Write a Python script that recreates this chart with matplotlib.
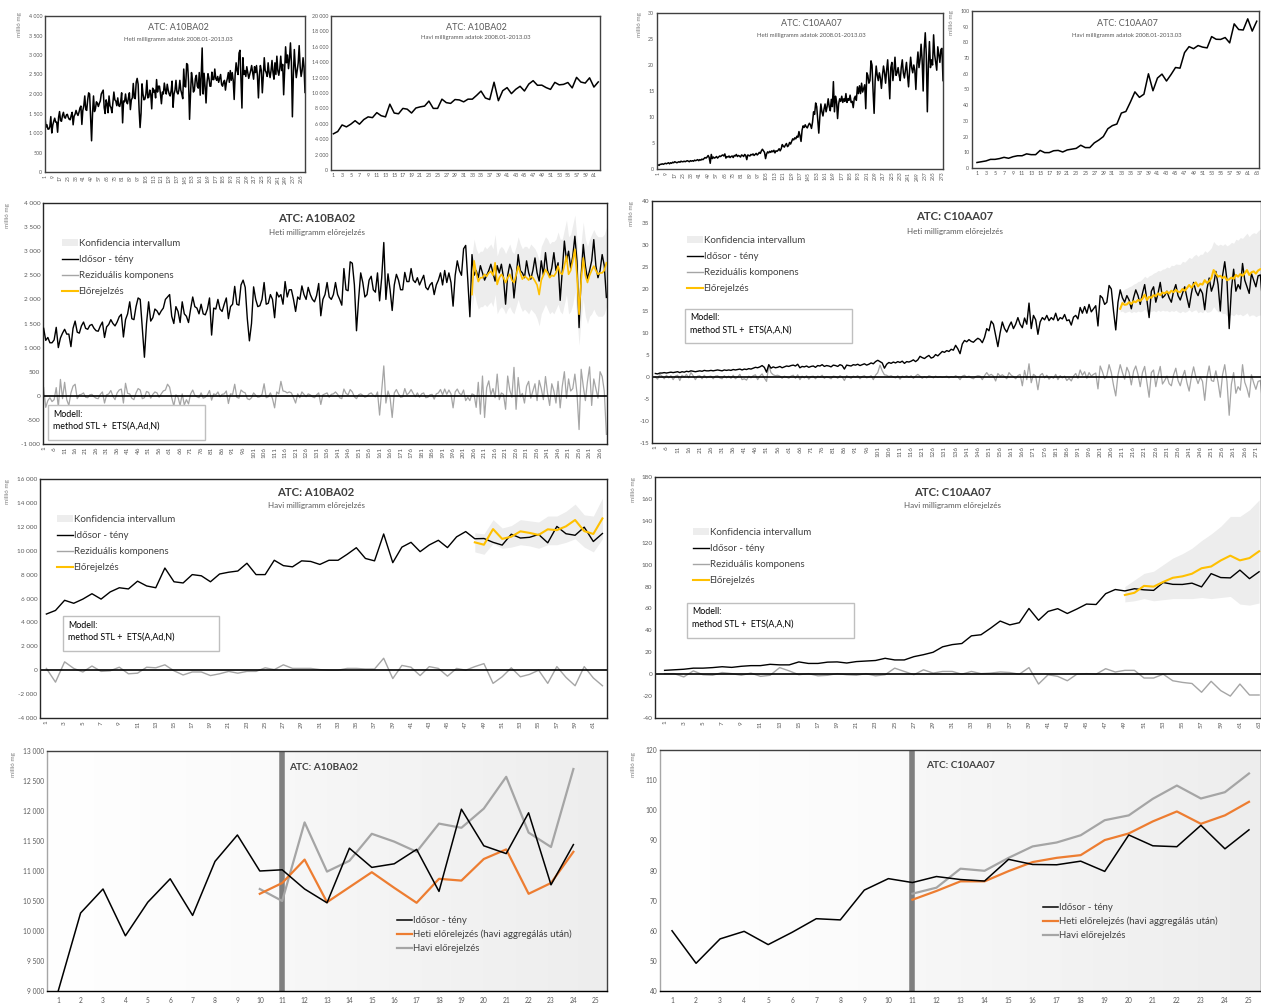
import numpy as np
import matplotlib.pyplot as plt
from matplotlib.patches import Rectangle, Patch
from matplotlib.lines import Line2D
from matplotlib.ticker import FuncFormatter

plt.rcParams['font.family'] = ['Lato', 'DejaVu Sans']

W, H = 1261, 1005

# ---------------- data ----------------
# A10BA02 weekly (weeks 1..269)
a10_week = [
    1400, 1150, 1210, 1100, 1100, 1160, 1420, 1000, 1200, 1300,
    1380, 1280, 1280, 1020, 1400, 1550, 1320, 1300, 1450, 1530,
    1400, 1380, 1460, 1480, 1400, 1350, 1340, 1450, 1530, 1210,
    1430, 1480, 1580, 1500, 1450, 1530, 1640, 1690, 1220, 1580,
    1700, 1950, 1600, 1580, 1850, 2030, 2000, 1400, 800, 1500,
    1950, 1550, 1620, 1800, 1760, 1680, 1760, 1820, 2000, 2050,
    2100, 1650, 1500, 1850, 1750, 1520, 1950, 1700, 1650, 1520,
    1800, 2050, 1850, 1820, 1700, 1900, 1700, 1680, 1800, 2030,
    1260, 1820, 1800, 2000, 1800, 1750, 1900, 2030, 1600, 1850,
    1900, 2270, 1900, 1880, 2300, 2400, 2250, 1600, 1140, 1500,
    2260, 2000, 1850, 1870, 2000, 2350, 1900, 1920, 2100, 2000,
    1620, 2150, 2050, 2100, 1900, 2370, 2050, 2200, 2200, 2000,
    1750, 2050, 2000, 2280, 2100, 2000, 2250, 2100, 2000, 1950,
    2080, 2330, 1660, 2000, 2100, 2350, 2050, 2000, 2100, 2350,
    2100, 2000, 1880, 2640, 2200, 2180, 2780, 2750, 2300, 1350,
    2000, 2550, 2350, 2050, 2100, 2400, 2480, 2200, 2150, 2550,
    1970, 2450, 3180, 2000, 2530, 2200, 1770, 2300, 2520, 2400,
    2200, 2200, 2560, 2370, 2370, 2640, 2400, 2350, 2450, 2300,
    2400, 2500, 2250, 2200, 2300, 2350, 2100, 2300, 2400, 2550,
    2300, 2600, 2350, 2550, 2350, 1860, 2500, 2800, 2600, 2500,
    3050, 3120, 2400, 1640, 2930, 2500, 2600, 2450, 2700, 2550,
    2400, 2500, 2600, 2730, 2550, 2380, 2700, 2550, 2730, 2450,
    1900, 2500, 2730, 2600, 2030, 2450, 2930, 2600, 2550, 2450,
    2800, 2550, 2420, 2600, 2860, 2550, 2380, 2800, 2500, 2970,
    2600, 2480, 2650, 2970, 2600, 2760, 1980, 2600, 3210, 2800,
    3000, 2650, 2900, 3310, 2800, 1415, 2500, 3140, 2700, 2420,
    2600, 2800, 3240, 2700, 2450, 2600, 2930, 2700, 2040,
]
a10_week_resid = [
    170, -240, -100, -40, -120, -80, 170, -240, 340, -60,
    280, -80, -200, 60, 200, 240, -60, 20, 30, 60,
    -30, -40, 20, 30, -20, -50, -60, 30, 80, -150,
    20, 40, 110, -10, -80, 60, 120, 140, -150, 260,
    50, 40, -50, -80, 60, 150, 120, -60, -40, 90,
    70, -50, 30, 80, 60, -30, 40, 100, 120, 240,
    180, -40, -210, 20, -30, -200, 40, -190, -80, -170,
    40, 120, 10, -20, -40, 60, -50, -30, 20, 110,
    -90, 40, 20, 80, -20, 30, 40, 100, -160, 40,
    30, 240, -30, -50, 120, 80, 60, -60, -80, -40,
    60, 10, -30, -20, 30, 250, -40, -20, 60, -60,
    -250, 80, 40, 300, 100, 90, 60, 80, 60, -40,
    -150, 40, -40, 80, 30, -20, 40, 20, -20, -40,
    20, 60, -180, 20, 40, 60, -30, 30, 40, 80,
    30, -40, -60, 140, 50, 20, 130, 80, -20, -60,
    20, 40, 10, -30, -10, 40, 60, 10, -20, 80,
    -400, 120, 620, -150, 100, -40, -450, 60, 130, 40,
    -30, -20, 150, 20, 60, 130, 50, -20, 60, -30,
    40, 60, -40, -30, 20, 30, -70, 40, 60, 130,
    20, 140, 30, 120, 40, -250, 80, 140, 50, 20,
    120, -100, -30, -100, 40, 20, -240, 280, -380, 410,
    -450, 170, 310, 20, 150, -40, 450, -80, 60, 30,
    -280, 410, 120, -30, 590, -280, 380, -20, 50, -150,
    200, 300, -50, 100, 250, -100, 320, 150, -80, 400,
    50, -200, 250, 100, -150, 300, -250, 200, 500, -50,
    350, 100, 150, 450, 50, -700, 550, 200, -100, 300,
    600, -200, 350, 150, -50, 500, 400, 100, -800,
]
a10_week_fc_start = 205
a10_week_fc = [
    2100, 2800, 2550, 2370, 2450, 2450, 2520, 2480, 2550, 2580,
    2500, 2760, 2310, 2450, 2520, 2450, 2350, 2450, 2520, 2400,
    2350, 2500, 2690, 2550, 2420, 2480, 2450, 2400, 2480, 2450,
    2380, 2300, 2100, 2400, 2500, 2620, 2550, 2450, 2500, 2480,
    2550, 2690, 2550, 2520, 2700, 2900, 2520, 2600, 2800, 3040,
    2500, 1690, 2400, 2860, 2500, 2350, 2500, 2600, 2690, 2600,
    2520, 2550, 2550, 2600, 2760,
]
a10_week_lo = [
    1800, 2150, 1950, 1800, 1850, 1850, 1900, 1850, 1900, 1950,
    1850, 2100, 1700, 1800, 1850, 1800, 1700, 1800, 1850, 1750,
    1700, 1850, 2000, 1850, 1750, 1800, 1750, 1700, 1800, 1750,
    1700, 1600, 1450, 1700, 1800, 1900, 1800, 1700, 1750, 1700,
    1800, 1900, 1750, 1700, 1900, 2100, 1700, 1750, 1900, 2150,
    1600, 1050, 1600, 2000, 1650, 1500, 1650, 1700, 1800, 1700,
    1650, 1650, 1650, 1700, 1850,
]
a10_week_hi = [
    2900, 3250, 3050, 2950, 3000, 3000, 3100, 3050, 3100, 3150,
    3050, 3350, 2900, 3050, 3100, 3050, 2950, 3050, 3150, 3000,
    2950, 3100, 3300, 3150, 3050, 3100, 3100, 3050, 3150, 3100,
    3050, 2950, 2800, 3100, 3200, 3300, 3250, 3150, 3200, 3200,
    3250, 3400, 3250, 3250, 3450, 3650, 3300, 3350, 3550, 3750,
    3250, 2450, 3200, 3600, 3250, 3100, 3250, 3350, 3450, 3350,
    3300, 3300, 3300, 3350, 3500,
]

# C10AA07 weekly (weeks 1..274)
c10_week = [
    0.8, 0.7, 0.9, 0.9, 1.0, 0.9, 1.0, 1.1, 1.0, 1.1,
    1.2, 1.0, 1.2, 1.1, 1.3, 1.2, 1.4, 1.3, 1.2, 1.3,
    1.4, 1.3, 1.5, 1.4, 1.4, 1.5, 1.4, 1.5, 1.6, 1.5,
    1.4, 1.6, 1.5, 1.6, 1.5, 1.7, 1.6, 1.7, 1.8, 1.6,
    1.8, 1.7, 1.9, 1.8, 2.0, 2.2, 2.1, 2.3, 2.6, 2.2,
    1.1, 2.8, 2.0, 2.3, 2.1, 2.2, 2.4, 2.1, 2.3, 2.5,
    2.4, 2.6, 2.7, 2.5, 2.9, 2.1, 2.4, 2.3, 2.5, 2.2,
    2.4, 2.5, 2.2, 2.6, 2.5, 2.8, 2.4, 2.6, 2.5, 2.3,
    2.7, 2.6, 2.4, 2.8, 2.6, 1.8, 2.7, 2.6, 2.5, 2.8,
    2.7, 2.9, 2.6, 2.8, 3.0, 2.7, 2.9, 3.2, 3.0, 3.5,
    3.8, 3.5, 3.2, 2.0, 2.9, 3.3, 3.1, 3.4, 3.2, 3.5,
    3.3, 3.6, 3.1, 3.5, 3.4, 3.6, 3.9, 3.5, 3.9, 4.7,
    4.4, 4.2, 4.6, 4.9, 4.3, 4.5, 5.1, 4.8, 5.3, 5.8,
    5.6, 6.0, 5.8, 6.3, 6.1, 7.2, 6.4, 5.3, 7.5, 8.3,
    8.0, 8.5, 8.1, 7.9, 8.4, 8.8, 8.5, 7.8, 9.0, 11.0,
    10.5, 12.7, 12.0, 9.5, 6.9, 10.0, 12.5, 11.0, 10.2, 11.5,
    12.5, 11.0, 12.0, 13.5, 12.0, 11.2, 13.4, 12.0, 16.8, 11.0,
    14.0, 13.0, 9.7, 12.5, 13.5, 13.0, 14.0, 12.8, 13.5, 13.0,
    14.5, 12.8, 13.5, 13.2, 14.2, 12.8, 13.0, 11.8, 13.6, 14.0,
    13.2, 15.8, 14.5, 16.0, 14.5, 16.5, 14.8, 15.5, 16.2, 11.6,
    18.5, 18.0, 16.5, 17.0, 20.8, 20.0, 15.0, 10.7, 17.0, 19.8,
    18.0, 17.0, 18.5, 17.5, 15.5, 18.0, 19.8, 18.5, 16.5, 19.0,
    21.0, 17.5, 13.5, 19.5, 20.5, 17.0, 19.0, 21.5, 18.0, 18.5,
    19.5, 18.0, 17.0, 19.5, 21.0, 18.5, 17.5, 19.0, 20.5, 18.0,
    15.8, 19.0, 21.5, 19.5, 18.5, 20.0, 19.0, 15.3, 20.0, 22.5,
    19.5, 21.0, 24.0, 21.0, 15.0, 23.0, 26.2, 22.0, 11.0, 20.0,
    24.5, 19.5, 21.0, 20.0, 25.8, 22.0, 20.5, 19.0, 23.5, 22.0,
    20.5, 23.0, 23.2, 17.0,
]
c10_week_resid = [
    0.0, -0.5, 0.6, 0.2, -0.4, 0.4, -0.2, 0.3, -0.6, 0.2,
    0.4, -0.8, 0.4, 0.0, 0.6, -0.2, 1.0, 0.3, -0.6, 0.2,
    0.3, -0.4, 0.4, -0.2, 0.1, 0.2, -0.4, 0.2, 0.3, -0.2,
    -0.4, 0.3, -0.2, 0.2, -0.3, 0.4, -0.4, 0.0, 0.6, -0.6,
    -0.4, -0.7, 0.2, -0.2, 0.3, 0.5, -0.6, 0.2, 0.7, -0.2,
    -1.0, 2.7, 1.0, 0.5, 0.3, 0.4, 0.2, -0.3, 0.2, 0.0,
    -0.3, 0.2, 0.4, -0.3, 0.5, -0.6, 0.2, -0.2, 0.3, -0.5,
    0.1, 0.2, -0.4, 0.2, 0.0, 0.4, -0.3, 0.1, -0.1, -0.4,
    0.2, 0.1, -0.3, 0.3, 0.0, -0.8, 0.3, 0.0, -0.3, 0.2,
    0.0, 0.3, -0.4, 0.1, 0.3, -0.2, 0.0, 0.3, -0.6, 0.4,
    1.0, 2.7, 1.4, 0.5, 0.4, 0.1, 0.3, 0.0, -0.2, 0.3,
    -0.5, 0.2, 0.0, 0.3, -0.1, 0.3, -0.3, 0.2, 0.6, 0.2,
    -0.3, 0.1, -0.2, 0.3, 0.1, -0.2, 0.2, -0.1, 0.1, -0.1,
    0.0, 0.2, -0.2, 0.1, -0.1, 0.3, 0.0, -0.6, 0.2, 0.4,
    -0.1, 0.2, -0.2, -0.4, 0.1, 0.3, 0.2, -0.6, 0.3, 1.0,
    0.3, 0.6, 0.2, -0.9, 0.8, 0.2, 0.5, 0.1, -0.4, 1.0,
    0.4, 0.1, -0.4, 0.3, 0.6, -2.0, 1.5, -0.6, 3.0, -1.3,
    0.6, 0.2, -2.9, 0.4, 0.8, -0.2, 0.4, -0.5, 0.1, -0.3,
    0.6, -0.6, 0.3, -0.2, 0.2, -0.8, -0.3, -0.9, 0.2, 0.8,
    -0.3, 1.6, 0.4, 1.2, -0.3, 1.0, 0.2, 0.6, 0.9, -2.7,
    2.5, 1.2, -0.4, 0.3, 2.8, 1.0, -1.9, -4.3, 0.5, 2.8,
    1.0, -0.5, 2.2, 1.0, -1.8, 1.3, 2.5, 0.6, -2.2, 1.0,
    2.4, -1.2, -4.6, 1.0, 1.6, -2.2, 0.4, 2.4, -1.6, -0.8,
    0.2, -1.5, -2.0, 0.5, 2.0, -0.8, -2.0, 0.0, 1.5, -1.3,
    -3.2, 0.0, 2.3, 0.0, -1.5, 0.0, -1.0, -5.3, 0.0, 2.5,
    -0.8, -1.0, 1.4, -1.2, -4.6, 0.5, 2.8, -1.0, -8.7, -1.6,
    1.0, -3.7, -2.2, -3.0, 2.8, -1.2, -2.6, -4.6, 0.5, -1.3,
    -2.8, -1.0, -0.8, -6.0,
]
c10_week_fc_start = 210
c10_week_fc = [
    15.5, 16.8, 16.4, 16.5, 17.0, 16.6, 17.2, 17.0, 17.5, 17.3,
    17.8, 18.7, 17.5, 18.2, 18.0, 18.6, 18.4, 19.0, 18.6, 19.2,
    19.0, 19.4, 19.0, 19.6, 19.3, 19.8, 19.4, 19.3, 20.0, 19.6,
    20.2, 20.9, 20.3, 21.0, 21.5, 20.6, 21.2, 21.0, 22.0, 21.4,
    21.8, 22.5, 24.3, 23.5, 22.8, 23.0, 22.5, 22.8, 22.0, 22.2,
    22.6, 22.3, 23.2, 22.8, 23.4, 23.0, 23.6, 24.3, 23.2, 23.8,
    24.0, 23.5, 24.2, 24.5, 24.6,
]
c10_week_lo = [
    14.8, 15.0, 14.6, 14.8, 15.0, 14.6, 14.9, 14.7, 15.0, 14.8,
    15.0, 15.4, 14.8, 15.0, 14.9, 15.1, 14.8, 15.2, 14.9, 15.2,
    15.0, 15.1, 14.8, 15.1, 14.9, 15.2, 14.8, 14.6, 15.0, 14.7,
    14.9, 15.3, 14.8, 15.1, 15.3, 14.6, 14.9, 14.6, 15.2, 14.7,
    14.8, 15.1, 16.0, 15.3, 14.8, 14.8, 14.4, 14.5, 13.9, 14.0,
    14.2, 13.9, 14.4, 14.1, 14.3, 13.9, 14.2, 14.6, 13.8, 14.1,
    14.1, 13.7, 14.0, 14.1, 14.0,
]
c10_week_hi = [
    19.0, 19.5, 20.0, 20.2, 20.5, 20.7, 21.1, 21.3, 21.7, 21.8,
    22.3, 22.9, 22.5, 23.0, 23.2, 23.6, 23.8, 24.2, 24.1, 24.5,
    24.6, 25.0, 24.8, 25.4, 25.3, 25.7, 25.6, 25.6, 26.3, 26.1,
    26.6, 27.2, 26.9, 27.5, 27.9, 27.4, 27.9, 27.9, 28.7, 28.3,
    28.8, 29.4, 30.8, 30.2, 29.9, 30.2, 29.9, 30.3, 29.8, 30.1,
    30.6, 30.4, 31.3, 31.1, 31.7, 31.5, 32.1, 32.7, 31.9, 32.5,
    32.8, 32.6, 33.2, 33.6, 33.8,
]

# A10BA02 monthly (months 1..62)
a10_month = [
    4700, 5000, 5850, 5600, 5950, 6400, 5950, 6550, 6900, 6800,
    7450, 7050, 6900, 8550, 7400, 7300, 8000, 7900, 7400, 8050,
    8200, 8300, 8950, 8000, 8000, 9200, 8750, 8650, 9150, 9100,
    8850, 9200, 9200, 9700, 10250, 9350, 9150, 11400, 9000, 10300,
    10700, 9920, 10480, 10870, 10260, 11160, 11600, 11000, 11020, 10700,
    10470, 11380, 11060, 11120, 11360, 10660, 12030, 11420, 11290, 11970,
    10770, 11440,
]
a10_month_resid = [
    150, -1000, 700, 150, -150, 350, -100, -50, 250, -300,
    -250, 250, 200, 450, -50, -400, -150, -150, -450, -300,
    -100, -250, -100, -100, 200, 50, 450, 150, 150, 150,
    50, 0, 0, 150, 150, 100, 100, 1000, -700, 400,
    250, -450, 300, 150, -500, 150, 0, 300, 550, -1100,
    -550, 200, -550, -350, 0, -1100, 300, -600, -1300, 300,
    -650, -1300,
]
a10_month_fc_start = 48
a10_month_fc = [10700, 10500, 11810, 10990, 11170, 11620, 11490, 11320,
                11790, 11720, 12040, 12570, 11640, 11400, 12700]
a10_month_lo = [9900, 9700, 10600, 10200, 10300, 10500, 10400, 10200,
                10500, 10500, 10700, 11000, 10300, 9900, 11000]
a10_month_hi = [11500, 11400, 12600, 11900, 12100, 12600, 12500, 12400,
                12900, 12900, 13300, 13900, 13000, 12900, 14400]
a10_week_agg = [10620, 10800, 11190, 10480, 10730, 10980, 10720, 10470,
                10870, 10840, 11200, 11360, 10620, 10800, 11320]

# C10AA07 monthly (months 1..63)
c10_month = [
    3.5, 4.0, 4.5, 5.5, 5.5, 6.0, 6.8, 6.2, 7.2, 7.8,
    7.8, 9.0, 8.5, 8.5, 11.2, 9.8, 9.8, 11.0, 11.2, 10.2,
    11.5, 12.0, 12.5, 14.5, 13.0, 13.0, 16.0, 17.8, 20.0, 25.0,
    27.0, 28.0, 35.0, 36.0, 42.0, 48.5, 45.0, 47.0, 60.0, 49.2,
    57.3, 59.8, 55.4, 59.5, 64.0, 63.6, 73.5, 77.3, 76.0, 78.0,
    77.0, 76.5, 83.7, 82.0, 81.9, 83.1, 79.7, 91.8, 88.2, 87.9,
    95.0, 87.2, 93.5,
]
c10_month_resid = [
    0.5, 0.5, -2.5, 3.0, -0.5, -1.0, 1.5, 0.5, -1.0, 1.0,
    -2.0, -1.0, 6.0, 3.0, -0.5, 0.5, -1.5, -1.0, 0.5, -0.5,
    -1.0, 0.5, -1.5, -0.5, 5.5, 2.5, -0.5, 4.0, 1.0, 2.5,
    2.5, 0.0, 2.5, 0.5, 1.0, 2.0, 1.5, 0.0, 6.0, -9.0,
    -0.5, -2.0, -6.0, 0.0, 0.5, 0.0, 5.0, 2.0, 3.5, 3.5,
    -3.5, -3.5, 0.0, -6.0, -7.5, -8.5, -16.5, -6.5, -15.0, -20.0,
    -9.0, -19.0, -19.0,
]
c10_month_fc_start = 49
c10_month_fc = [72.3, 74.3, 80.6, 79.9, 84.2, 88.0, 89.3, 91.7,
                96.7, 98.3, 103.8, 108.2, 103.9, 106.0, 112.2]
c10_month_lo = [66, 67, 69, 67, 68, 69, 69, 69, 70, 69, 70, 71, 64, 63, 65]
c10_month_hi = [80, 86, 92, 94, 100, 106, 110, 115, 122, 128, 135, 144, 144, 150, 159]
c10_week_agg = [70.3, 73.2, 76.4, 76.4, 79.8, 82.8, 84.2, 85.1,
                90.1, 92.3, 96.3, 99.6, 95.5, 98.3, 102.8]

cmp_start = 39  # comparison panels show months 39..end

labels_main = ['Konfidencia intervallum', 'Idősor - tény',
               'Reziduális komponens', 'Előrejelzés']
labels_cmp = ['Idősor - tény', 'Heti előrelejzés (havi aggregálás után)',
              'Havi előrejelzés']

# ---------------- helpers ----------------
GRAY = '#595959'
BAND = '#ededed'
YEL = '#FFC000'
ORANGE = '#ED7D31'
LGRAY = '#A5A5A5'

fig = plt.figure(figsize=(W / 100, H / 100), dpi=100)


def fx(x):
    return x / W


def fy(y):
    return 1 - y / H


def add_box(l, t, r, b):
    return fig.add_axes([l / W, 1 - b / H, (r - l) / W, (b - t) / H])


def spaced(v, pos):
    s = f'{abs(int(round(v))):,}'.replace(',', ' ')
    return ('-' if v < 0 else '') + s


def style(ax, lo, hi, step, lsize, spine='#262626', fmt=True):
    ax.set_ylim(lo, hi)
    ax.set_yticks(np.arange(lo, hi + step / 2, step))
    if fmt:
        ax.yaxis.set_major_formatter(FuncFormatter(spaced))
    ax.tick_params(length=0, colors=GRAY, labelsize=lsize, pad=2)
    for s in ax.spines.values():
        s.set_color(spine)
        s.set_linewidth(1)


def ylab(x, y):
    fig.text(fx(x), fy(y), 'millió mg', rotation=90, ha='center', va='top',
             fontsize=4.5, color='#7f7f7f')


def titles(x, y1, y2, t, sub, bold, s1, s2):
    fig.text(fx(x), fy(y1), t, ha='center', va='center', fontsize=s1,
             color='#595959' if not bold else '#404040',
             fontweight='bold' if bold else 'normal')
    fig.text(fx(x), fy(y2), sub, ha='center', va='center', fontsize=s2,
             color='#595959')


def model_box(l, t, r, b, txt):
    fig.patches.append(Rectangle((fx(l), fy(b)), fx(r - l), (b - t) / H,
                                 transform=fig.transFigure, facecolor='white',
                                 edgecolor='#bfbfbf', lw=1))
    fig.text(fx(l + 5), fy(t + 9), 'Modell:', fontsize=6.4, va='center', color='#000000')
    fig.text(fx(l + 5), fy(t + 21), txt, fontsize=6.4, va='center', color='#000000')


def main_legend(ax, x0, y0):
    h = [Patch(facecolor=BAND, edgecolor='none'),
         Line2D([], [], color='black', lw=1),
         Line2D([], [], color=LGRAY, lw=1),
         Line2D([], [], color=YEL, lw=1.5)]
    ax.legend(h, labels_main, loc='upper left', bbox_to_anchor=(fx(x0), fy(y0)),
              bbox_transform=fig.transFigure, frameon=False, fontsize=7,
              handlelength=1.6, handletextpad=0.1, labelspacing=0.72,
              borderpad=0, borderaxespad=0, labelcolor='#404040')


# ---------------- top row: raw data ----------------
ax = add_box(45, 16, 305, 172)
x = np.arange(1, len(a10_week) + 1)
ax.plot(x, a10_week, color='black', lw=1.1)
style(ax, 0, 4000, 500, 3.8, spine='#404040')
ax.set_xlim(1, len(a10_week))
ax.set_xticks(np.arange(1, 266, 8))
ax.tick_params(axis='x', labelrotation=90, labelsize=3.6)
titles(178, 28, 39, 'ATC: A10BA02', 'Heti milligramm adatok 2008.01-2013.03', False, 6.5, 4.3)
ylab(20, 12)

ax = add_box(331, 16, 600, 170)
x = np.arange(1, len(a10_month) + 1)
ax.plot(x, a10_month, color='black', lw=1.1)
style(ax, 0, 20000, 2000, 3.8, spine='#404040')
ax.set_xlim(0.45, len(a10_month) + 0.4)
ax.set_xticks(np.arange(1, 62, 2))
ax.tick_params(axis='x', labelsize=3.8)
titles(476, 28, 38, 'ATC: A10BA02', 'Havi milligramm adatok 2008.01-2013.03', False, 6.5, 4.3)

ax = add_box(657, 13, 943, 169)
x = np.arange(1, len(c10_week) + 1)
ax.plot(x, c10_week, color='black', lw=1.1)
style(ax, 0, 30, 5, 3.8, spine='#404040')
ax.set_xlim(0, len(c10_week))
ax.set_xticks(np.arange(1, 274, 8))
ax.tick_params(axis='x', labelrotation=90, labelsize=3.6)
titles(811, 24, 36, 'ATC: C10AA07', 'Heti milligramm adatok 2008.01-2013.03', False, 6.5, 4.3)
ylab(640, 12)

ax = add_box(972, 11, 1259, 168)
x = np.arange(1, len(c10_month) + 1)
ax.plot(x, c10_month, color='black', lw=1.1)
style(ax, 0, 100, 10, 3.8, spine='#404040')
ax.set_xlim(-0.1, len(c10_month) + 0.5)
ax.set_xticks(np.arange(1, 64, 2))
ax.tick_params(axis='x', labelsize=3.8)
titles(1127, 24, 35, 'ATC: C10AA07', 'Havi milligramm adatok 2008.01-2013.03', False, 6.5, 4.3)
ylab(951, 10)

# ---------------- row 2: weekly forecasts ----------------
ax = add_box(43, 203, 607, 444)
x = np.arange(1, len(a10_week) + 1)
xf = np.arange(a10_week_fc_start, a10_week_fc_start + len(a10_week_fc))
ax.fill_between(xf, a10_week_lo, a10_week_hi, color=BAND, lw=0, zorder=1)
ax.plot(x, a10_week_resid, color=LGRAY, lw=0.9, zorder=2)
ax.axhline(0, color='black', lw=1.2, zorder=2.5)
ax.plot(x, a10_week, color='black', lw=1.0, zorder=3)
ax.plot(xf, a10_week_fc, color=YEL, lw=1.2, zorder=4)
style(ax, -1000, 4000, 500, 4.6)
ax.set_xlim(0.7, len(a10_week) + 0.3)
ax.set_xticks(np.arange(1, 267, 5))
ax.tick_params(axis='x', labelrotation=90, labelsize=4.6)
titles(317, 219, 233, 'ATC: A10BA02', 'Heti milligramm előrejelzés', True, 8.2, 5.8)
main_legend(ax, 62, 239)
model_box(48, 405, 205, 440, 'method STL +  ETS(A,Ad,N)')
ylab(8, 203)

ax = add_box(652, 201, 1261, 443)
x = np.arange(1, len(c10_week) + 1)
xf = np.arange(c10_week_fc_start, c10_week_fc_start + len(c10_week_fc))
ax.fill_between(xf, c10_week_lo, c10_week_hi, color=BAND, lw=0, zorder=1)
ax.plot(x, c10_week_resid, color=LGRAY, lw=0.9, zorder=2)
ax.axhline(0, color='black', lw=1.2, zorder=2.5)
ax.plot(x, c10_week, color='black', lw=1.0, zorder=3)
ax.plot(xf, c10_week_fc, color=YEL, lw=1.5, zorder=4)
style(ax, -15, 40, 5, 4.6)
ax.set_xlim(-0.5, 273.3)
ax.set_xticks(np.arange(1, 272, 5))
ax.tick_params(axis='x', labelrotation=90, labelsize=4.6)
titles(955, 216, 231, 'ATC: C10AA07', 'Heti milligramm előrejelzés', True, 8.2, 5.8)
main_legend(ax, 687, 236)
model_box(685, 309, 852, 343, 'method STL +  ETS(A,A,N)')
ylab(632, 201)

# ---------------- row 3: monthly forecasts ----------------
ax = add_box(40, 479, 607, 718)
x = np.arange(1, len(a10_month) + 1)
xf = np.arange(a10_month_fc_start, a10_month_fc_start + len(a10_month_fc))
ax.fill_between(xf, a10_month_lo, a10_month_hi, color=BAND, lw=0, zorder=1)
ax.plot(x, a10_month_resid, color=LGRAY, lw=1.0, zorder=2)
ax.axhline(0, color='black', lw=1.2, zorder=2.5)
ax.plot(x, a10_month, color='black', lw=1.0, zorder=3)
ax.plot(xf, a10_month_fc, color=YEL, lw=1.5, zorder=4)
style(ax, -4000, 16000, 2000, 4.6)
ax.set_xlim(0.3, len(a10_month) + 0.5)
ax.set_xticks(np.arange(1, 62, 2))
ax.tick_params(axis='x', labelrotation=90, labelsize=4.6)
titles(316, 493, 505, 'ATC: A10BA02', 'Havi milligramm előrejelzés', True, 8.2, 5.8)
main_legend(ax, 57, 515)
model_box(63, 616, 219, 651, 'method STL +  ETS(A,Ad,N)')
ylab(8, 479)

ax = add_box(655, 477, 1261, 718)
x = np.arange(1, len(c10_month) + 1)
xf = np.arange(c10_month_fc_start, c10_month_fc_start + len(c10_month_fc))
ax.fill_between(xf, c10_month_lo, c10_month_hi, color=BAND, lw=0, zorder=1)
ax.plot(x, c10_month_resid, color=LGRAY, lw=1.0, zorder=2)
ax.axhline(0, color='black', lw=1.2, zorder=2.5)
ax.plot(x, c10_month, color='black', lw=1.0, zorder=3)
ax.plot(xf, c10_month_fc, color=YEL, lw=1.5, zorder=4)
style(ax, -40, 180, 20, 4.6)
ax.set_xlim(0, len(c10_month) + 0.2)
ax.set_xticks(np.arange(1, 64, 2))
ax.tick_params(axis='x', labelrotation=90, labelsize=4.6)
titles(953, 492, 505, 'ATC: C10AA07', 'Havi milligramm előrejelzés', True, 8.2, 5.8)
main_legend(ax, 693, 528)
model_box(687, 603, 854, 638, 'method STL +  ETS(A,A,N)')
ylab(634, 477)


# ---------------- row 4: comparison ----------------
def compare(box, actual, fc_m, fc_w, fc_x0, lo, hi, step, fmt, title, tx, leg):
    ax = add_box(*box)
    n = 25.5
    left = np.linspace(1.0, 0.98, 100)[None, :]
    right = np.linspace(0.97, 0.93, 100)[None, :]
    ax.imshow(np.dstack([left] * 3), extent=[0.5, 11, lo, hi], aspect='auto', zorder=0)
    ax.imshow(np.dstack([right] * 3), extent=[11, n, lo, hi], aspect='auto', zorder=0)
    ax.axvline(11, color='#7f7f7f', lw=4, zorder=1)
    x = np.arange(1, len(actual) + 1)
    xf = np.arange(fc_x0, fc_x0 + len(fc_m))
    ax.plot(xf, fc_m, color=LGRAY, lw=1.6, zorder=2)
    ax.plot(xf, fc_w, color=ORANGE, lw=1.6, zorder=3)
    ax.plot(x, actual, color='black', lw=1.1, zorder=4)
    style(ax, lo, hi, step, 4.8, spine='#404040', fmt=fmt)
    ax.spines['bottom'].set_color('black')
    ax.spines['left'].set_color('#a6a6a6')
    ax.set_xlim(0.5, n)
    ax.set_xticks(np.arange(1, 26))
    ax.tick_params(axis='x', labelsize=4.8, pad=4)
    fig.text(fx(tx[0]), fy(tx[1]), title, fontsize=7.3, fontweight='bold',
             color='#404040', va='center')
    h = [Line2D([], [], color='black', lw=1.1),
         Line2D([], [], color=ORANGE, lw=1.6),
         Line2D([], [], color=LGRAY, lw=1.6)]
    ax.legend(h, labels_cmp, loc='upper left', bbox_to_anchor=(fx(leg[0]), fy(leg[1])),
              bbox_transform=fig.transFigure, frameon=False, fontsize=6.9,
              handlelength=1.6, handletextpad=0.1, labelspacing=0.5,
              borderpad=0, borderaxespad=0, labelcolor='#404040')
    return ax


compare((47, 751, 607, 991), a10_month[cmp_start - 1:], a10_month_fc, a10_week_agg,
        a10_month_fc_start - cmp_start + 1, 9000, 13000, 500, True,
        'ATC: A10BA02', (289, 767), (397, 916))
ylab(14, 752)
compare((660, 750, 1261, 991), c10_month[cmp_start - 1:], c10_month_fc, c10_week_agg,
        c10_month_fc_start - cmp_start + 1, 40, 120, 10, False,
        'ATC: C10AA07', (926, 766), (1043, 903))
ylab(634, 752)

fig.savefig('out.png', dpi=100)
